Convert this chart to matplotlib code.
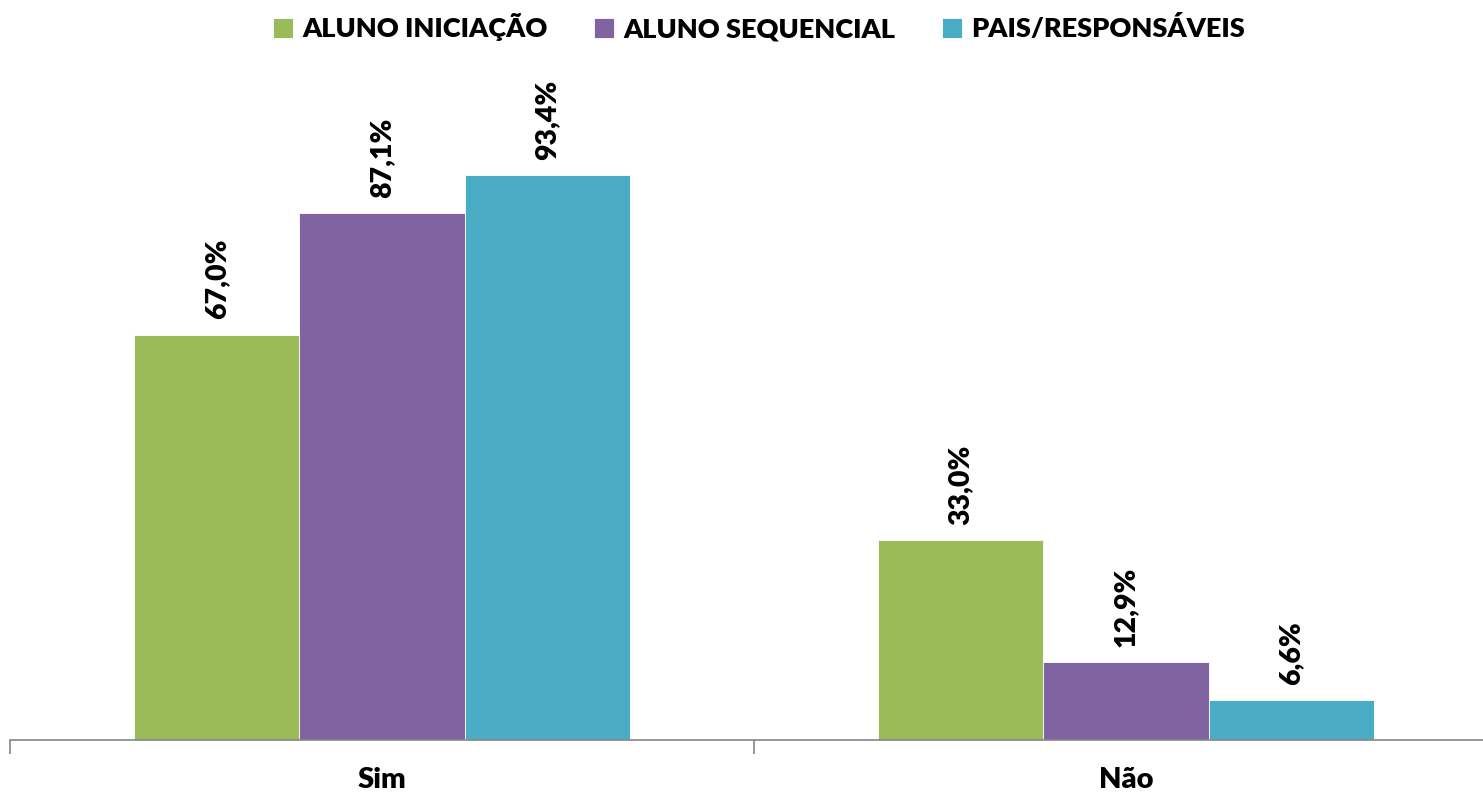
import matplotlib.pyplot as plt
import numpy as np

plt.rcParams['font.family'] = ['Lato', 'DejaVu Sans']

categories = ['Sim', 'Não']
series = ['ALUNO INICIAÇÃO', 'ALUNO SEQUENCIAL', 'PAIS/RESPONSÁVEIS']
values = [
    [67.0, 33.0],
    [87.1, 12.9],
    [93.4, 6.6],
]
colors = ['#9BBB59', '#8064A2', '#4BACC6']

fig = plt.figure(figsize=(14.83, 7.94), dpi=100)
# plot area runs a little past the right edge, like the source
ax = fig.add_axes([10 / 1483, 54 / 794, 1488 / 1483, 605 / 794])

x = np.arange(len(categories))
width = 0.222
for i, (name, vals) in enumerate(zip(series, values)):
    pos = x + (i - 1) * width
    bars = ax.bar(pos, vals, width, color=colors[i], label=name,
                  edgecolor='white', linewidth=0.6)
    for b, v in zip(bars, vals):
        ax.annotate(f'{v:.1f}%'.replace('.', ','),
                    (b.get_x() + b.get_width() / 2, v),
                    xytext=(0, 11), textcoords='offset points',
                    rotation=90, ha='center', va='bottom',
                    fontsize=20.5, fontweight='heavy')

ax.set_xlim(-0.5, 1.5)
ax.set_ylim(0, 100)
ax.set_yticks([])
for s in ['top', 'right', 'left']:
    ax.spines[s].set_visible(False)
ax.spines['bottom'].set_color('#868686')
ax.spines['bottom'].set_linewidth(1.2)
ax.set_xticks([-0.5, 0.5, 1.5])
ax.set_xticklabels([])
ax.tick_params(axis='x', length=10, color='#868686', width=1.2)
for xi, c in zip(x, categories):
    ax.text(xi, -6.6, c, ha='center', va='center', fontsize=21,
            fontweight='heavy')

ax.legend(loc='upper center', bbox_to_anchor=(759 / 1483, 1.014),
          bbox_transform=fig.transFigure, ncol=3, frameon=False,
          prop={'size': 19.5, 'weight': 'heavy'},
          handlelength=0.75, handleheight=0.75, handletextpad=0.35,
          columnspacing=1.7)

fig.savefig('out.png', dpi=100)
